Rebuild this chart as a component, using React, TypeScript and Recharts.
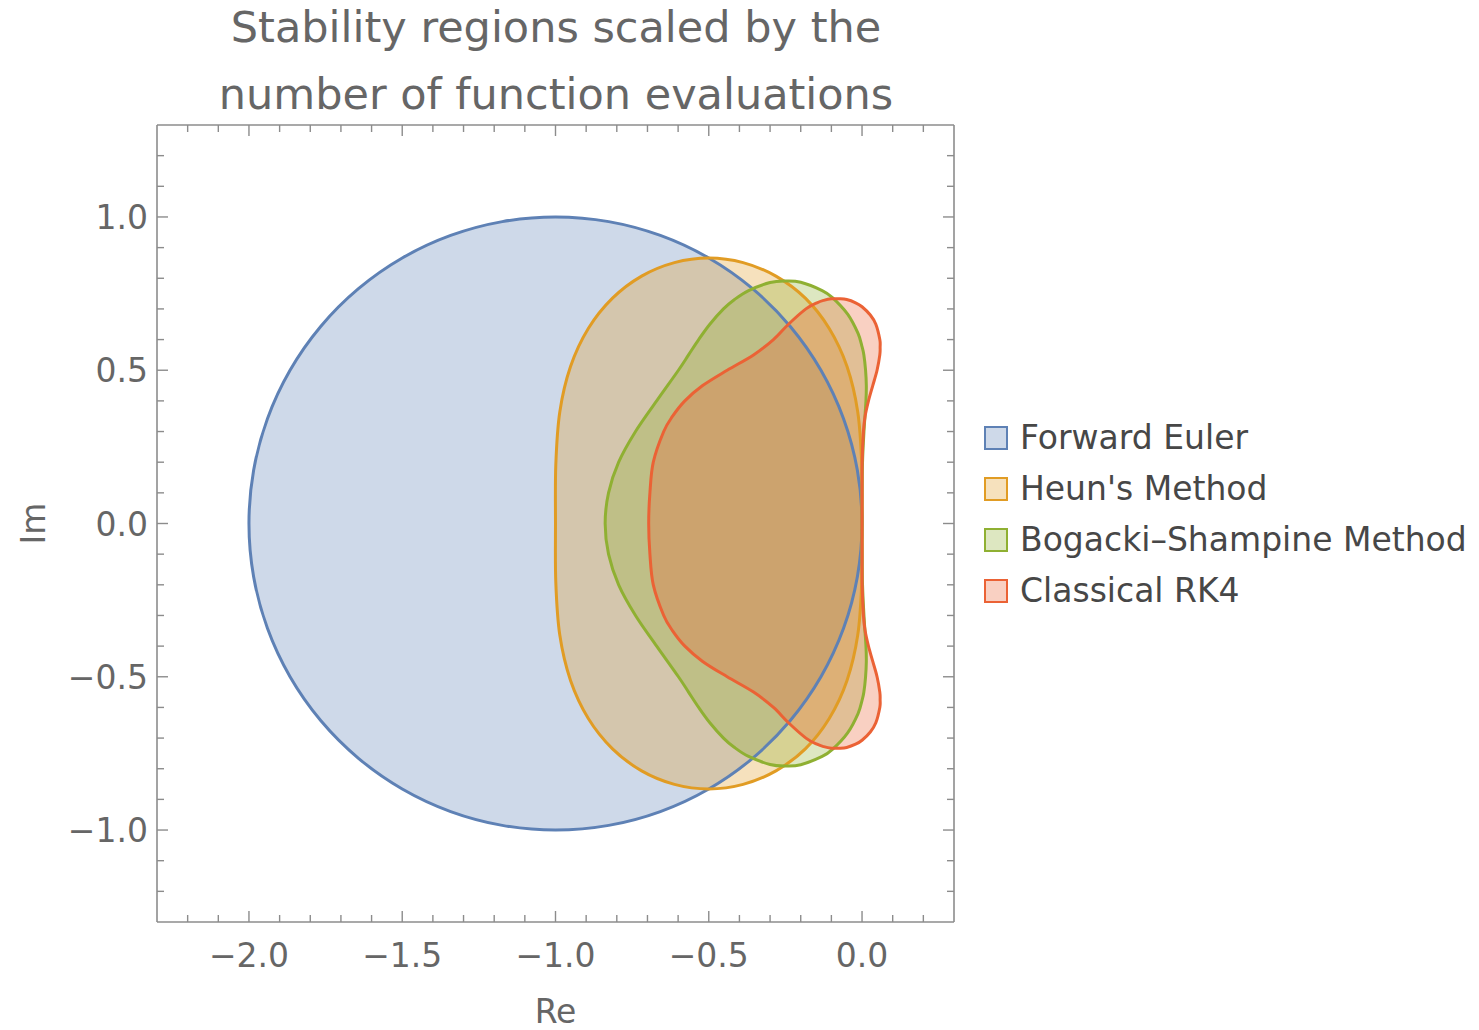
import React from 'react';
import { ComposedChart, Scatter, XAxis, YAxis, Legend, Customized } from 'recharts';

type Pt = { re: number; im: number };

// ---------------- data (boundaries of the scaled stability regions) ----------------
const forwardEuler: Pt[] = [
  { re: 0, im: 0 }, { re: -0.0152, im: 0.1736 }, { re: -0.0603, im: 0.342 }, { re: -0.134, im: 0.5 },
  { re: -0.234, im: 0.6428 }, { re: -0.3572, im: 0.766 }, { re: -0.5, im: 0.866 }, { re: -0.658, im: 0.9397 },
  { re: -0.8264, im: 0.9848 }, { re: -1, im: 1 }, { re: -1.1736, im: 0.9848 }, { re: -1.342, im: 0.9397 },
  { re: -1.5, im: 0.866 }, { re: -1.6428, im: 0.766 }, { re: -1.766, im: 0.6428 }, { re: -1.866, im: 0.5 },
  { re: -1.9397, im: 0.342 }, { re: -1.9848, im: 0.1736 }, { re: -2, im: 0 }, { re: -1.9848, im: -0.1736 },
  { re: -1.9397, im: -0.342 }, { re: -1.866, im: -0.5 }, { re: -1.766, im: -0.6428 }, { re: -1.6428, im: -0.766 },
  { re: -1.5, im: -0.866 }, { re: -1.342, im: -0.9397 }, { re: -1.1736, im: -0.9848 }, { re: -1, im: -1 },
  { re: -0.8264, im: -0.9848 }, { re: -0.658, im: -0.9397 }, { re: -0.5, im: -0.866 }, { re: -0.3572, im: -0.766 },
  { re: -0.234, im: -0.6428 }, { re: -0.134, im: -0.5 }, { re: -0.0603, im: -0.342 }, { re: -0.0152, im: -0.1736 },
];

const heunMethod: Pt[] = [
  { re: 0, im: 0 }, { re: -0.001, im: 0.192 }, { re: -0.014, im: 0.364 }, { re: -0.049, im: 0.512 },
  { re: -0.107, im: 0.636 }, { re: -0.185, im: 0.735 }, { re: -0.281, im: 0.807 }, { re: -0.388, im: 0.851 },
  { re: -0.5, im: 0.866 }, { re: -0.612, im: 0.851 }, { re: -0.719, im: 0.807 }, { re: -0.814, im: 0.735 },
  { re: -0.893, im: 0.636 }, { re: -0.951, im: 0.512 }, { re: -0.986, im: 0.364 }, { re: -0.999, im: 0.192 },
  { re: -1, im: 0 }, { re: -0.999, im: -0.192 }, { re: -0.986, im: -0.364 }, { re: -0.951, im: -0.512 },
  { re: -0.893, im: -0.636 }, { re: -0.814, im: -0.735 }, { re: -0.719, im: -0.807 }, { re: -0.612, im: -0.851 },
  { re: -0.5, im: -0.866 }, { re: -0.388, im: -0.851 }, { re: -0.281, im: -0.807 }, { re: -0.185, im: -0.735 },
  { re: -0.107, im: -0.636 }, { re: -0.049, im: -0.512 }, { re: -0.014, im: -0.364 }, { re: -0.001, im: -0.192 },
];

const bogackiShampine: Pt[] = [
  { re: 0, im: 0 }, { re: 0, im: 0.1 }, { re: 0.0016, im: 0.2 }, { re: 0.0063, im: 0.3 },
  { re: 0.0128, im: 0.4 }, { re: 0.014, im: 0.45 }, { re: 0.0115, im: 0.5 }, { re: 0.006, im: 0.55 },
  { re: 0, im: 0.577 }, { re: -0.013, im: 0.62 }, { re: -0.047, im: 0.683 }, { re: -0.0965, im: 0.737 },
  { re: -0.13, im: 0.76 }, { re: -0.2, im: 0.787 }, { re: -0.25, im: 0.791 }, { re: -0.3, im: 0.786 },
  { re: -0.37, im: 0.76 }, { re: -0.417, im: 0.73 }, { re: -0.452, im: 0.7 }, { re: -0.4965, im: 0.65 },
  { re: -0.533, im: 0.6 }, { re: -0.566, im: 0.55 }, { re: -0.599, im: 0.5 }, { re: -0.67, im: 0.4 },
  { re: -0.739, im: 0.3 }, { re: -0.794, im: 0.2 }, { re: -0.827, im: 0.1 }, { re: -0.838, im: 0 },
  { re: -0.827, im: -0.1 }, { re: -0.794, im: -0.2 }, { re: -0.739, im: -0.3 }, { re: -0.67, im: -0.4 },
  { re: -0.599, im: -0.5 }, { re: -0.566, im: -0.55 }, { re: -0.533, im: -0.6 }, { re: -0.4965, im: -0.65 },
  { re: -0.452, im: -0.7 }, { re: -0.417, im: -0.73 }, { re: -0.37, im: -0.76 }, { re: -0.3, im: -0.786 },
  { re: -0.25, im: -0.791 }, { re: -0.2, im: -0.787 }, { re: -0.13, im: -0.76 }, { re: -0.0965, im: -0.737 },
  { re: -0.047, im: -0.683 }, { re: -0.013, im: -0.62 }, { re: 0, im: -0.577 }, { re: 0.006, im: -0.55 },
  { re: 0.0115, im: -0.5 }, { re: 0.014, im: -0.45 }, { re: 0.0128, im: -0.4 }, { re: 0.0063, im: -0.3 },
  { re: 0.0016, im: -0.2 }, { re: 0, im: -0.1 },
];

const classicalRK4: Pt[] = [
  { re: 0, im: 0 }, { re: 0, im: 0.1 }, { re: 0.0004, im: 0.2 }, { re: 0.0045, im: 0.3 },
  { re: 0.01, im: 0.35 }, { re: 0.021, im: 0.4 }, { re: 0.035, im: 0.45 }, { re: 0.049, im: 0.5 },
  { re: 0.058, im: 0.55 }, { re: 0.059, im: 0.575 }, { re: 0.058, im: 0.6 }, { re: 0.045, im: 0.65 },
  { re: 0.027, im: 0.68 }, { re: 0, im: 0.707 }, { re: -0.021, im: 0.72 }, { re: -0.05, im: 0.7305 },
  { re: -0.075, im: 0.733 }, { re: -0.1, im: 0.733 }, { re: -0.125, im: 0.728 }, { re: -0.147, im: 0.72 },
  { re: -0.183, im: 0.7 }, { re: -0.24, im: 0.65 }, { re: -0.289, im: 0.6 }, { re: -0.354, im: 0.55 },
  { re: -0.44, im: 0.5 }, { re: -0.52, im: 0.45 }, { re: -0.578, im: 0.4 }, { re: -0.618, im: 0.35 },
  { re: -0.647, im: 0.3 }, { re: -0.681, im: 0.2 }, { re: -0.692, im: 0.1 }, { re: -0.696, im: 0 },
  { re: -0.692, im: -0.1 }, { re: -0.681, im: -0.2 }, { re: -0.647, im: -0.3 }, { re: -0.618, im: -0.35 },
  { re: -0.578, im: -0.4 }, { re: -0.52, im: -0.45 }, { re: -0.44, im: -0.5 }, { re: -0.354, im: -0.55 },
  { re: -0.289, im: -0.6 }, { re: -0.24, im: -0.65 }, { re: -0.183, im: -0.7 }, { re: -0.147, im: -0.72 },
  { re: -0.125, im: -0.728 }, { re: -0.1, im: -0.733 }, { re: -0.075, im: -0.733 }, { re: -0.05, im: -0.7305 },
  { re: -0.021, im: -0.72 }, { re: 0, im: -0.707 }, { re: 0.027, im: -0.68 }, { re: 0.045, im: -0.65 },
  { re: 0.058, im: -0.6 }, { re: 0.059, im: -0.575 }, { re: 0.058, im: -0.55 }, { re: 0.049, im: -0.5 },
  { re: 0.035, im: -0.45 }, { re: 0.021, im: -0.4 }, { re: 0.01, im: -0.35 }, { re: 0.0045, im: -0.3 },
  { re: 0.0004, im: -0.2 }, { re: 0, im: -0.1 },
];

const seriesNames = ['Forward Euler', "Heun's Method", 'Bogacki\u2013Shampine Method', 'Classical RK4'];
const seriesColors = ['#5E81B5', '#E19C24', '#8FB032', '#EB6235'];
const seriesData = [forwardEuler, heunMethod, bogackiShampine, classicalRK4];

const xTicks = [-2.2, -2.1, -2.0, -1.9, -1.8, -1.7, -1.6, -1.5, -1.4, -1.3, -1.2, -1.1, -1.0, -0.9, -0.8, -0.7, -0.6, -0.5, -0.4, -0.3, -0.2, -0.1, 0, 0.1, 0.2];
const yTicks = [-1.2, -1.1, -1.0, -0.9, -0.8, -0.7, -0.6, -0.5, -0.4, -0.3, -0.2, -0.1, 0, 0.1, 0.2, 0.3, 0.4, 0.5, 0.6, 0.7, 0.8, 0.9, 1.0, 1.1, 1.2];
const xDomain: [number, number] = [-2.3, 0.3];
const yDomain: [number, number] = [-1.3, 1.3];
const titleLines = ['Stability regions scaled by the', 'number of function evaluations'];
const xLabel = 'Re';
const yLabel = 'Im';

// ---------------- styles ----------------
const FONT = '"DejaVu Sans", sans-serif';
const FRAME = '#8c8c8c';
const TEXT = '#666666';
const LEGEND_TEXT = '#474747';
const MAJOR = 11;
const MINOR = 7;

const isMajor = (v: number) => Math.abs(v * 2 - Math.round(v * 2)) < 1e-6;
const fmt = (v: number) => {
  const s = Math.abs(v).toFixed(1);
  return v < -1e-9 ? '\u2212' + s : s;
};

function smoothClosedPath(points: { x: number; y: number }[]): string {
  const n = points.length;
  if (!n) return '';
  let d = `M${points[0].x},${points[0].y}`;
  for (let i = 0; i < n; i++) {
    const p0 = points[(i - 1 + n) % n];
    const p1 = points[i];
    const p2 = points[(i + 1) % n];
    const p3 = points[(i + 2) % n];
    const c1x = p1.x + (p2.x - p0.x) / 6;
    const c1y = p1.y + (p2.y - p0.y) / 6;
    const c2x = p2.x - (p3.x - p1.x) / 6;
    const c2y = p2.y - (p3.y - p1.y) / 6;
    d += ` C${c1x},${c1y} ${c2x},${c2y} ${p2.x},${p2.y}`;
  }
  return d + ' Z';
}

const regionFill = (color: string) => (props: any) => (
  <path d={smoothClosedPath(props.points || [])} fill={color} fillOpacity={0.3} stroke="none" />
);
const regionEdge = (color: string) => (props: any) => (
  <path d={smoothClosedPath(props.points || [])} fill="none" stroke={color} strokeWidth={3} strokeLinejoin="round" />
);
const noSymbol = () => <g />;

function BottomTick(props: any) {
  const { x, y, payload } = props;
  const major = isMajor(payload.value);
  return (
    <g>
      <line x1={x} x2={x} y1={y} y2={y - (major ? MAJOR : MINOR)} stroke={FRAME} strokeWidth={1.4} />
      {major && (
        <text x={x} y={y + 45} textAnchor="middle" fill={TEXT} fontSize={33} fontFamily={FONT}>
          {fmt(payload.value)}
        </text>
      )}
    </g>
  );
}
function TopTick(props: any) {
  const { x, y, payload } = props;
  const major = isMajor(payload.value);
  return <line x1={x} x2={x} y1={y} y2={y + (major ? MAJOR : MINOR)} stroke={FRAME} strokeWidth={1.4} />;
}
function LeftTick(props: any) {
  const { x, y, payload } = props;
  const major = isMajor(payload.value);
  return (
    <g>
      <line x1={x} x2={x + (major ? MAJOR : MINOR)} y1={y} y2={y} stroke={FRAME} strokeWidth={1.4} />
      {major && (
        <text x={x - 9} y={y + 12} textAnchor="end" fill={TEXT} fontSize={33} fontFamily={FONT}>
          {fmt(payload.value)}
        </text>
      )}
    </g>
  );
}
function RightTick(props: any) {
  const { x, y, payload } = props;
  const major = isMajor(payload.value);
  return <line x1={x} x2={x - (major ? MAJOR : MINOR)} y1={y} y2={y} stroke={FRAME} strokeWidth={1.4} />;
}

function ReLabel(props: any) {
  const vb = props.viewBox || { x: 0, y: 0, width: 0, height: 0 };
  return (
    <text x={vb.x + vb.width / 2} y={vb.y + 101} textAnchor="middle" fill={TEXT} fontSize={33} fontFamily={FONT}>
      {xLabel}
    </text>
  );
}
function ImLabel(props: any) {
  const vb = props.viewBox || { x: 0, y: 0, width: 0, height: 0 };
  const cx = vb.x + 45;
  const cy = vb.y + vb.height / 2;
  return (
    <text x={cx} y={cy} transform={`rotate(-90 ${cx} ${cy})`} textAnchor="middle" fill={TEXT} fontSize={33} fontFamily={FONT}>
      {yLabel}
    </text>
  );
}

function ChartTitle() {
  return (
    <g>
      {titleLines.map((t, i) => (
        <text key={t} x={556} y={42 + i * 67} textAnchor="middle" fill={TEXT} fontSize={43} fontFamily={FONT}>
          {t}
        </text>
      ))}
    </g>
  );
}

function LegendContent() {
  return (
    <div style={{ width: 495, fontFamily: FONT, fontSize: 33, color: LEGEND_TEXT, whiteSpace: 'nowrap' }}>
      {seriesNames.map((name, i) => (
        <div key={name} style={{ display: 'flex', alignItems: 'center', height: 51 }}>
          <svg width={24} height={24} style={{ marginRight: 12, flex: 'none' }}>
            <rect x={1} y={1} width={22} height={22} fill={seriesColors[i]} fillOpacity={0.3} stroke={seriesColors[i]} strokeWidth={2} />
          </svg>
          <span style={{ lineHeight: '51px' }}>{name}</span>
        </div>
      ))}
    </div>
  );
}

export default function App() {
  return (
    <div style={{ position: 'absolute', left: 0, top: 0, width: 1479, height: 1030, background: '#ffffff' }}>
      <ComposedChart width={1479} height={1030} margin={{ top: 124, right: 524, bottom: 0, left: 0 }}>
        <XAxis
          xAxisId="main"
          dataKey="re"
          type="number"
          domain={xDomain}
          ticks={xTicks}
          interval={0}
          allowDataOverflow
          height={108}
          tickSize={0}
          tickMargin={0}
          tickLine={false}
          axisLine={{ stroke: FRAME, strokeWidth: 1.6 }}
          tick={BottomTick}
          label={ReLabel}
        />
        <XAxis
          xAxisId="top"
          orientation="top"
          dataKey="re"
          type="number"
          domain={xDomain}
          ticks={xTicks}
          interval={0}
          allowDataOverflow
          height={1}
          tickSize={0}
          tickMargin={0}
          tickLine={false}
          axisLine={{ stroke: FRAME, strokeWidth: 1.6 }}
          tick={TopTick}
        />
        <YAxis
          yAxisId="main"
          dataKey="im"
          type="number"
          domain={yDomain}
          ticks={yTicks}
          interval={0}
          allowDataOverflow
          width={157}
          tickSize={0}
          tickMargin={0}
          tickLine={false}
          axisLine={{ stroke: FRAME, strokeWidth: 1.6 }}
          tick={LeftTick}
          label={ImLabel}
        />
        <YAxis
          yAxisId="right"
          orientation="right"
          dataKey="im"
          type="number"
          domain={yDomain}
          ticks={yTicks}
          interval={0}
          allowDataOverflow
          width={1}
          tickSize={0}
          tickMargin={0}
          tickLine={false}
          axisLine={{ stroke: FRAME, strokeWidth: 1.6 }}
          tick={RightTick}
        />
        {seriesData.map((data, i) => (
          <Scatter
            key={'fill-' + seriesNames[i]}
            name={seriesNames[i]}
            xAxisId="main"
            yAxisId="main"
            data={data}
            fill={seriesColors[i]}
            line={regionFill(seriesColors[i])}
            lineType="joint"
            shape={noSymbol}
            legendType="square"
            isAnimationActive={false}
          />
        ))}
        {seriesData.map((data, i) => (
          <Scatter
            key={'edge-' + seriesNames[i]}
            name={seriesNames[i] + ' boundary'}
            xAxisId="main"
            yAxisId="main"
            data={data}
            fill={seriesColors[i]}
            line={regionEdge(seriesColors[i])}
            lineType="joint"
            shape={noSymbol}
            legendType="none"
            isAnimationActive={false}
          />
        ))}
        <Legend
          layout="vertical"
          align="right"
          verticalAlign="middle"
          content={LegendContent}
          wrapperStyle={{ position: 'absolute', left: 984, top: 412, width: 0, height: 0, overflow: 'visible' }}
        />
        <Customized component={ChartTitle} />
      </ComposedChart>
    </div>
  );
}
